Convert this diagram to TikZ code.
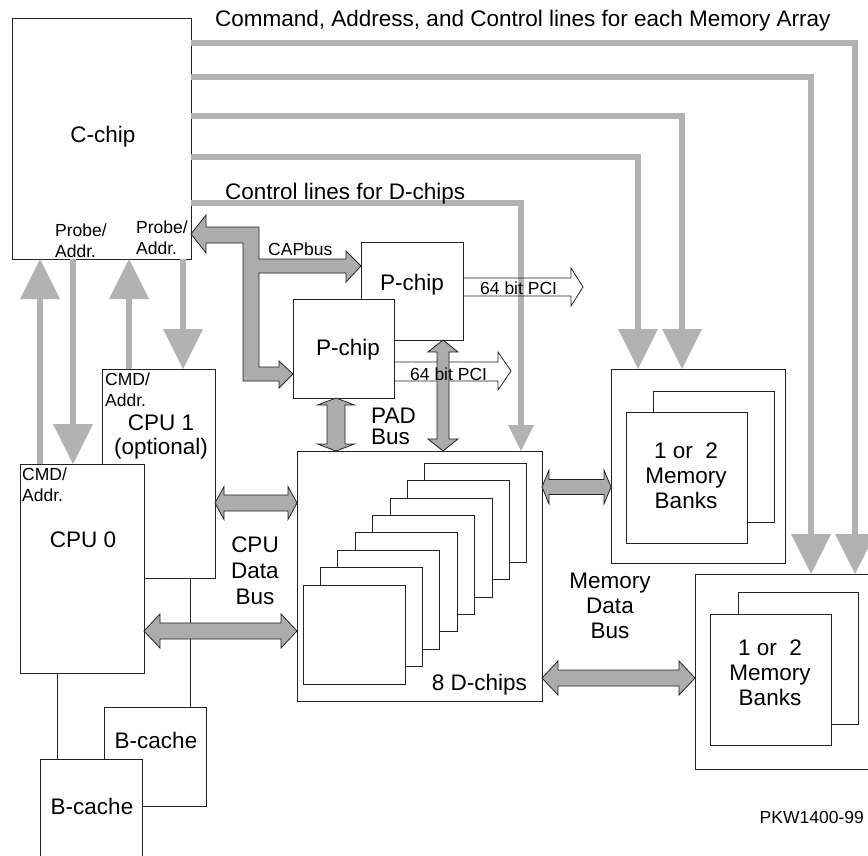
\documentclass[tikz,border=0pt]{standalone}
\usepackage{fontspec}
\setmainfont{Liberation Sans}
\usetikzlibrary{arrows.meta,calc}
\definecolor{lg}{RGB}{178,178,178}
\definecolor{busfill}{RGB}{172,172,172}
\definecolor{edge}{RGB}{35,35,35}
\newcommand\hbus[6]{\draw[bus] let \p1=(#1), \p2=(#2) in
 (\x1,#3pt) -- (\x1+#6pt,#3pt+#5pt) -- (\x1+#6pt,#3pt+#4pt) -- (\x2-#6pt,#3pt+#4pt) -- (\x2-#6pt,#3pt+#5pt) -- (\x2,#3pt) -- (\x2-#6pt,#3pt-#5pt) -- (\x2-#6pt,#3pt-#4pt) -- (\x1+#6pt,#3pt-#4pt) -- (\x1+#6pt,#3pt-#5pt) -- cycle;}
\newcommand\vbus[6]{\draw[bus] let \p1=(#1), \p2=(#2) in
 (#3pt,\y1) -- (#3pt+#5pt,\y1-#6pt) -- (#3pt+#4pt,\y1-#6pt) -- (#3pt+#4pt,\y2+#6pt) -- (#3pt+#5pt,\y2+#6pt) -- (#3pt,\y2) -- (#3pt-#5pt,\y2+#6pt) -- (#3pt-#4pt,\y2+#6pt) -- (#3pt-#4pt,\y1-#6pt) -- (#3pt-#5pt,\y1-#6pt) -- cycle;}
\begin{document}
\begin{tikzpicture}[x=1pt,y=1pt,
  box/.style={draw=edge, line width=0.9pt, fill=white, inner sep=0pt, outer sep=0pt, anchor=north west},
  ctl/.style={draw=lg, line width=6pt},
  bigtip/.style={-{Triangle[width=40pt,length=40pt,line width=0pt]}},
  smalltip/.style={-{Triangle[width=26pt,length=26pt,line width=0pt]}},
  bus/.style={draw=edge, fill=busfill, line width=0.8pt, line join=miter},
  pci/.style={draw=edge, line width=0.8pt},
  wire/.style={draw=edge, line width=0.9pt},
  big/.style={font=\fontsize{22.5}{25}\selectfont, inner sep=0pt},
  small/.style={font=\fontsize{17.5}{20.5}\selectfont, inner sep=0pt}]
\useasboundingbox (0,0) rectangle (868,-856);

% ---- boxes ----
\node[box, minimum width=113pt, minimum height=209pt] (cpu1) at (102,-369) {};
\node[box, minimum width=124pt, minimum height=209pt] (cpu0) at (20,-464) {};
\node[box, minimum width=102pt, minimum height=99pt] (bc1) at (104,-707) {};
\node[box, minimum width=102pt, minimum height=110pt] (bc0) at (40,-759) {};
\node[box, minimum width=179pt, minimum height=241pt] (cchip) at (12,-18) {};
\node[box, minimum width=245pt, minimum height=250pt] (dchip) at (297,-451) {};
\foreach \i in {7,6,...,0}
  \node[box, minimum width=102pt, minimum height=99pt] (d\i) at ({303+17.4*\i},{-585+17.4*\i}) {};
\node[box, minimum width=102pt, minimum height=98pt] (upP) at (361,-242) {};
\node[box, minimum width=101pt, minimum height=99pt] (lowP) at (293,-299) {};
\node[box, minimum width=174pt, minimum height=194pt] (mem1) at (611,-369) {};
\node[box, minimum width=121pt, minimum height=131pt] (mem1b) at (653,-391) {};
\node[box, minimum width=121pt, minimum height=131pt] (mem1a) at (626,-412) {};
\node[box, minimum width=190pt, minimum height=195pt] (mem2) at (695,-574) {};
\node[box, minimum width=120pt, minimum height=132pt] (mem2b) at (738,-592) {};
\node[box, minimum width=121pt, minimum height=131pt] (mem2a) at (710,-614) {};

% ---- thin wires CPU -> B-cache ----
\coordinate (w0) at (57,0);
\coordinate (w1) at (190,0);
\draw[wire] (w0 |- cpu0.south) -- (w0 |- bc0.north);
\draw[wire] (w1 |- cpu1.south) -- (w1 |- bc1.north);

% ---- command/address/control lines ----
\coordinate (m1) at (855,-43);
\coordinate (m2) at (811,-77);
\coordinate (m3) at (682,-116);
\coordinate (m4) at (638,-157);
\coordinate (m5) at (521,-203);
\draw[ctl, bigtip] (cchip.east |- m1) -- (m1) -- (m1 |- mem2.north);
\draw[ctl, bigtip] (cchip.east |- m2) -- (m2) -- (m2 |- mem2.north);
\draw[ctl, bigtip] (cchip.east |- m3) -- (m3) -- (m3 |- mem1.north);
\draw[ctl, bigtip] (cchip.east |- m4) -- (m4) -- (m4 |- mem1.north);
\draw[ctl, smalltip] (cchip.east |- m5) -- (m5) -- (m5 |- dchip.north);

% ---- probe / cmd arrows ----
\coordinate (a1) at (40,0);
\coordinate (a2) at (73,0);
\coordinate (a3) at (129,0);
\coordinate (a4) at (183,0);
\draw[ctl, bigtip] (a1 |- cpu0.north) -- (a1 |- cchip.south);
\draw[ctl, bigtip] (a2 |- cchip.south) -- (a2 |- cpu0.north);
\draw[ctl, bigtip] (a3 |- cpu1.north) -- (a3 |- cchip.south);
\draw[ctl, bigtip] (a4 |- cchip.south) -- (a4 |- cpu1.north);

% ---- PCI arrows ----
\draw[pci] let \p1=(upP.east) in (\x1,-278pt) -- (571pt,-278pt) -- (571pt,-268pt) -- (583pt,-287pt) -- (571pt,-306pt) -- (571pt,-296pt) -- (\x1,-296pt);
\draw[pci] let \p1=(lowP.east) in (\x1,-362pt) -- (498pt,-362pt) -- (498pt,-352pt) -- (511pt,-371pt) -- (498pt,-390pt) -- (498pt,-381pt) -- (\x1,-381pt);

% ---- CAPbus ----
\draw[bus] let \p1=(cchip.east), \p2=(upP.west), \p3=(lowP.west) in
 (259pt,-227pt) -- (206pt,-227pt) -- (206pt,-215pt) -- (\x1,-234pt) -- (206pt,-253pt) -- (206pt,-243pt)
 -- (243pt,-243pt) -- (243pt,-381pt) -- (279pt,-381pt) -- (279pt,-388pt) -- (\x3,-374pt) -- (279pt,-361pt)
 -- (279pt,-367pt) -- (259pt,-367pt) -- (259pt,-273pt) -- (346pt,-273pt) -- (346pt,-282pt) -- (\x2,-266pt)
 -- (346pt,-251pt) -- (346pt,-259pt) -- (259pt,-259pt) -- cycle;

% ---- data buses ----
\hbus{cpu1.east}{dchip.west}{-503}{8}{16.5}{9}
\hbus{cpu0.east}{dchip.west}{-631}{8}{17}{16}
\hbus{dchip.east}{mem1.west}{-487}{7.5}{17}{7}
\hbus{dchip.east}{mem2.west}{-678}{8}{17}{16}
\vbus{lowP.south}{dchip.north}{336}{9}{18.5}{7}
\vbus{upP.south}{dchip.north}{443}{6}{15}{12}

% ---- texts ----
\node[big, anchor=north west] (tcmd) at (215,-10) {Command, Address, and Control lines for each Memory Array};
\node[big, anchor=north west] (tctl) at (225,-183) {Control lines for D-chips};
\node[big, anchor=base] (tc) at (103,-143) {C-chip};
\node[small, anchor=north west, align=left] (tp1) at (55,-224) {Probe/\\Addr.};
\node[small, anchor=north west, align=left] (tp2) at (136,-221) {Probe/\\Addr.};
\node[small, anchor=base west] (tcap) at (268,-255) {CAPbus};
\node[big, anchor=base] (tup) at (412,-290) {P-chip};
\node[big, anchor=base] (tlp) at (348,-355) {P-chip};
\node[small, anchor=base west] (tpci1) at (480,-294) {64 bit PCI};
\node[small, anchor=base west] (tpci2) at (410,-380) {64 bit PCI};
\node[big, anchor=north west, align=left, font=\fontsize{22.5}{20.5}\selectfont] (tpad) at (371,-408) {PAD\\Bus};
\node[small, anchor=north west, align=left] (tcmd1) at (105,-373) {CMD/\\Addr.};
\node[small, anchor=north west, align=left] (tcmd0) at (22,-468) {CMD/\\Addr.};
\node[big, anchor=north, align=center, font=\fontsize{22.5}{24}\selectfont] (tcpu1) at (161,-415) {CPU 1\\(optional)};
\node[big, anchor=base] (tcpu0) at (83,-547) {CPU 0};
\node[big, anchor=north, align=center, font=\fontsize{22.5}{26}\selectfont] (tcdb) at (255,-537) {CPU\\Data\\Bus};
\node[big, anchor=north, align=center] (tmdb) at (610,-573) {Memory\\Data\\Bus};
\node[big, anchor=north, align=center] (tmb1) at (686,-443) {1 or\ \ 2\\Memory\\Banks};
\node[big, anchor=north, align=center] (tmb2) at (770,-640) {1 or\ \ 2\\Memory\\Banks};
\node[big, anchor=base east] (td) at (527,-690) {8 D-chips};
\node[big, anchor=base] (tbc1) at (156,-748) {B-cache};
\node[big, anchor=base] (tbc0) at (92,-814) {B-cache};
\node[small, anchor=base east] (tpkw) at (864,-823) {PKW1400-99};
\end{tikzpicture}
\end{document}
